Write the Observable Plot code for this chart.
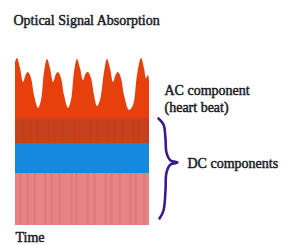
<!DOCTYPE html>
<html><head><meta charset="utf-8">
<script src="https://cdn.jsdelivr.net/npm/d3@7"></script>
<script src="https://cdn.jsdelivr.net/npm/@observablehq/plot@0.6"></script>
<style>body{margin:0;background:#fff;overflow:hidden}</style>
</head><body><div id="chart"></div>
<script>
// time samples and pulsatile absorption (AC) signal
const time = [0,2,5,8,11,13,16,19,23,26,29,32,35,38,41,43,46,49,53,56,59,62,65,68,71,73,76,79,82,85,89,92,95,98,101,103,106,109,114,118,122,126,129,131,133,134];
const signal = [163,167,157,143,151,153,147,130,117,125,153,166,157,143,151,153,147,130,117,125,153,166,157,145,152,153,147,130,119,125,153,166,157,143,151,153,147,130,115,120,150,167,157,147,150,145];
// DC layers (bottom, top)
const layerNames = ["tissue", "venous blood", "arterial DC"];
const layerLow = [0, 52, 82];
const layerHigh = [52, 82, 107];
const layerColors = ["#e88484", "#1589e0", "#c6421c"];
const acBase = 107;
// texture stripes in the lowest layer
const stripeTimes = [5, 12, 19, 30, 36, 44, 56, 61, 72, 79, 90, 96, 104, 115, 120, 129];
// brace (time, level)
const braceT = [143,148,150,151,155,162,155,151,150,148,144];
const braceV = [107,101,87,73,65,63,61,53,35,15,7];
// labels
const labelText = ["Optical Signal Absorption", "AC component", "(heart beat)", "DC components", "Time"];
const labelT = [-2, 149, 149, 172, 0];
const labelV = [205, 135, 118, 62, -12];

const wave = time.map((t, i) => ({t, v: signal[i]}));
const layers = layerNames.map((n, i) => ({n, lo: layerLow[i], hi: layerHigh[i], c: layerColors[i]}));
const brace = braceT.map((t, i) => ({t, v: braceV[i]}));
const labels = labelText.map((s, i) => ({s, t: labelT[i], v: labelV[i]}));

const font = "'Liberation Serif', 'Times New Roman', serif";
const chart = Plot.plot({
  width: 285, height: 245,
  marginLeft: 15, marginRight: 136, marginTop: 0, marginBottom: 20,
  x: {domain: [0, 134], axis: null},
  y: {domain: [0, 225], axis: null},
  style: {background: "#fff", fontFamily: font},
  marks: [
    Plot.areaY(wave, {x: "t", y1: acBase, y2: "v", fill: "#e8400c", curve: "catmull-rom"}),
    Plot.rect(layers, {x1: 0, x2: 134, y1: "lo", y2: "hi", fill: "c"}),
    Plot.ruleX(stripeTimes, {x: d => d, y1: 0, y2: 52, stroke: "#d45a5a", strokeWidth: 2.5, strokeOpacity: 0.25}),
    Plot.ruleX(stripeTimes, {x: d => d + 3, y1: 82, y2: 107, stroke: "#b83818", strokeWidth: 1.5, strokeOpacity: 0.2}),
    Plot.line(brace, {x: "t", y: "v", stroke: "#3b1a8c", strokeWidth: 2.6, curve: "catmull-rom"}),
    Plot.text(labels, {x: "t", y: "v", text: "s", textAnchor: "start", fontFamily: font, fontSize: 14, fill: "#1c1c28", stroke: "#1c1c28", strokeWidth: 0.5})
  ]
});
document.getElementById("chart").appendChild(chart);
</script></body></html>
